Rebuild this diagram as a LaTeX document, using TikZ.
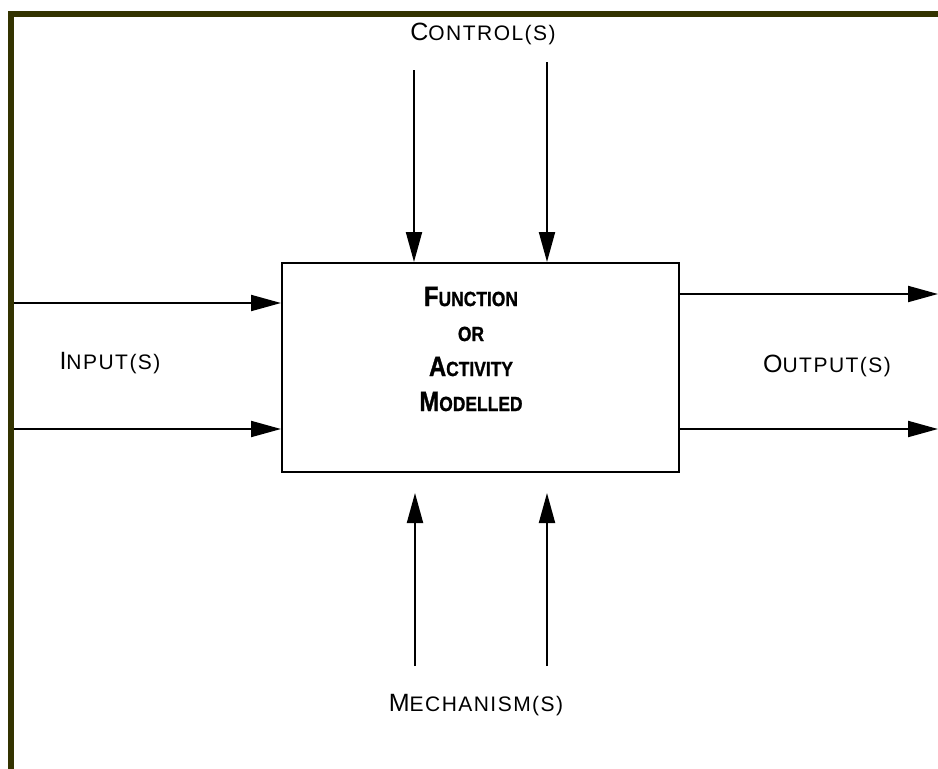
\documentclass[tikz,border=0pt]{standalone}
\usepackage{fontspec}
\setmainfont{Liberation Sans}
\usetikzlibrary{arrows.meta}
\definecolor{frame}{RGB}{51,51,0}
\newfontfamily\labfont[LetterSpace=7]{Liberation Sans}
\newfontfamily\boldlab[FakeBold=1.2]{Liberation Sans Bold}
% hand-made small capitals: first letter large, the rest smaller
\newcommand\sclab[2]{\labfont{\fontsize{25}{25}\selectfont #1}{\fontsize{21}{21}\selectfont #2}}
\newcommand\scbold[2]{\scalebox{0.85}[1]{\boldlab{\fontsize{28}{35}\selectfont #1}{\fontsize{20.5}{35}\selectfont #2}}}
\begin{document}
\begin{tikzpicture}[x=1pt,y=-1pt,
  flow/.style={line width=2pt,-{Triangle[length=30pt,width=16pt]}},
  lab/.style={inner sep=0pt,anchor=center}]
\useasboundingbox (0,0) rectangle (938,769);
% page frame (left and top bands)
\fill[frame] (8,11) rectangle (938,17);
\fill[frame] (8,11) rectangle (14,769);

% the activity box
\node[draw,line width=2pt,minimum width=397pt,minimum height=209pt,inner sep=0pt]
  (box) at (480.5,367.5) {};
\node[lab,align=center,font=\fontsize{28}{35}\selectfont] (fn) at (471,349)
  {\scbold{F}{UNCTION}\\\scbold{}{OR}\\\scbold{A}{CTIVITY}\\\scbold{M}{ODELLED}};

% labels
\node[lab] (ctl) at (483,34) {\sclab{C}{ONTROL(S)}};
\node[lab] (inp) at (110,363) {\sclab{I}{NPUT(S)}};
\node[lab] (out) at (827,366) {\sclab{O}{UTPUT(S)}};
\node[lab] (mech) at (476,705) {\sclab{M}{ECHANISM(S)}};

% free ends of the connectors
\coordinate (c1) at (414,70);
\coordinate (c2) at (547,62);
\coordinate (i1) at (14,303);
\coordinate (i2) at (14,429);
\coordinate (o1) at (938,294);
\coordinate (o2) at (938,429);
\coordinate (m1s) at (415,666);
\coordinate (m1e) at (415,493);
\coordinate (m2s) at (547,666);
\coordinate (m2e) at (547,493);

% controls
\draw[flow] (c1) -- (c1 |- box.north);
\draw[flow] (c2) -- (c2 |- box.north);
% inputs
\draw[flow] (i1) -- (i1 -| box.west);
\draw[flow] (i2) -- (i2 -| box.west);
% outputs
\draw[flow] (o1 -| box.east) -- (o1);
\draw[flow] (o2 -| box.east) -- (o2);
% mechanisms
\draw[flow] (m1s) -- (m1e);
\draw[flow] (m2s) -- (m2e);
\end{tikzpicture}
\end{document}
